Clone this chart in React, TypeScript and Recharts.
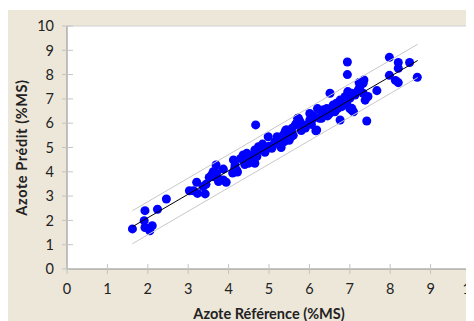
import React from "react";
import {
  CartesianGrid,
  Label,
  ReferenceLine,
  Scatter,
  ScatterChart,
  XAxis,
  YAxis,
  ZAxis,
} from "recharts";

// Reference (lab) nitrogen vs predicted nitrogen, %MS
const refX = [
  1.62, 1.93, 1.91, 1.93, 2.05, 2.11, 2.24, 2.46, 3.03, 3.13, 3.21, 3.23, 3.42, 3.44, 3.37,
  3.52, 3.58, 3.62, 3.62, 3.69, 3.7, 3.75, 3.77, 3.87, 3.87, 3.94, 4.1, 4.12, 4.16, 4.15,
  4.2, 4.22, 4.36, 4.45, 4.4, 4.49, 4.53, 4.61, 4.65, 4.65, 4.7, 4.74, 4.45, 4.55, 4.67,
  4.84, 4.98, 5.07, 5.0, 5.23, 5.31, 5.2, 5.25, 5.15, 5.35, 5.38, 5.42, 5.4, 5.44, 5.5,
  5.57, 5.6, 5.65, 5.68, 5.71, 5.73, 5.77, 5.8, 5.85, 5.93, 6.01, 6.01, 6.06, 6.1, 6.16,
  6.18, 6.2, 6.25, 6.3, 6.4, 6.43, 6.45, 6.51, 6.55, 6.59, 6.63, 6.67, 6.7, 6.76, 6.76,
  6.8, 6.84, 6.88, 6.92, 6.94, 6.94, 6.95, 7.0, 7.0, 7.05, 7.05, 7.05, 7.09, 7.13, 7.21,
  7.23, 7.25, 7.33, 7.35, 7.33, 7.38, 7.42, 7.42, 7.45, 7.67, 7.98, 7.98, 8.13, 8.2, 8.2,
  8.2, 8.48, 8.67, 5.1, 5.3, 5.45, 5.55, 5.9, 6.05, 6.3, 6.35, 6.5, 6.6, 4.3, 4.5,
  4.8, 4.9,
];
const predY = [
  1.65, 2.4, 1.99, 1.71, 1.57, 1.78, 2.46, 2.88, 3.22, 3.22, 3.57, 3.11, 3.09, 3.49, 3.39,
  3.77, 3.87, 3.8, 4.0, 4.28, 3.94, 3.6, 3.69, 4.11, 3.66, 3.57, 3.95, 4.49, 4.28, 4.14,
  4.07, 3.99, 4.69, 4.76, 4.3, 4.35, 4.56, 4.69, 4.9, 4.35, 4.63, 5.03, 4.5, 4.45, 5.93,
  5.14, 5.44, 4.97, 5.05, 5.38, 5.17, 5.44, 5.31, 5.24, 5.51, 5.24, 5.72, 5.65, 5.72, 5.3,
  5.79, 5.5, 5.93, 6.0, 6.2, 6.2, 6.06, 5.7, 5.9, 5.93, 6.13, 6.4, 6.13, 6.3, 5.69,
  5.72, 6.6, 6.2, 6.35, 6.45, 6.6, 6.3, 7.23, 6.54, 6.75, 6.47, 6.82, 6.6, 6.95, 6.13,
  6.68, 6.89, 7.09, 6.82, 8.52, 8.0, 7.3, 7.02, 6.6, 7.23, 6.61, 6.54, 6.47, 7.16, 7.37,
  7.67, 7.5, 7.64, 7.78, 7.23, 6.95, 7.09, 6.09, 7.1, 7.34, 8.71, 7.97, 7.76, 7.67, 8.26,
  8.5, 8.5, 7.89, 5.1, 5.0, 5.4, 5.45, 5.8, 5.95, 6.2, 6.55, 6.4, 6.6, 4.55, 4.6,
  4.9, 4.8,
];

// regression line and its +/- band, end points
const fitX = [1.62, 8.68];
const fitY = [1.74, 8.58];
const upperY = [2.4, 9.25];
const lowerY = [1.04, 7.88];

const axisTicks = [0, 1, 2, 3, 4, 5, 6, 7, 8, 9, 10];

const points = refX.map((x, i) => ({ x, y: predY[i] }));
const fitLine = fitX.map((x, i) => ({ x, y: fitY[i] }));
const upperLine = fitX.map((x, i) => ({ x, y: upperY[i] }));
const lowerLine = fitX.map((x, i) => ({ x, y: lowerY[i] }));

const FONT = "Lato, 'Open Sans', sans-serif";
const TICK_COLOR = "#c4c4c4";

const YTick = (props: any) => {
  const { x, y, payload } = props;
  return (
    <g>
      <line x1={x - 5} x2={x + 6} y1={y} y2={y} stroke={TICK_COLOR} />
      <text x={x - 13} y={y} dy="0.36em" textAnchor="end" fill="#222" fontSize={14.5} fontFamily={FONT}>
        {payload.value}
      </text>
    </g>
  );
};

const XTick = (props: any) => {
  const { x, y, payload } = props;
  return (
    <g>
      <line x1={x} x2={x} y1={y - 5} y2={y + 5} stroke={TICK_COLOR} />
      <text x={x} y={y + 20} dy="0.36em" textAnchor="middle" fill="#222" fontSize={14.5} fontFamily={FONT}>
        {payload.value}
      </text>
    </g>
  );
};

const noDot = () => <g />;

export default function App() {
  return (
    <div style={{ marginTop: 2, width: 466, height: 311, background: "#ede7d9" }}>
      <ScatterChart width={466} height={311} margin={{ top: 16, right: 3, left: 0, bottom: 0 }}>
        <CartesianGrid horizontal={false} vertical={false} fill="#ffffff" />
        <XAxis
          type="number"
          dataKey="x"
          domain={[0, 10]}
          ticks={axisTicks}
          interval={0}
          height={52}
          stroke="#8a8a8a"
          tickLine={false}
          tickSize={0}
          tickMargin={0}
          tick={<XTick />}
        >
          <Label
            value="Azote Référence (%MS)"
            position="insideBottom"
            offset={2}
            style={{ fontFamily: FONT, fontSize: 14.5, fontWeight: 700, fill: "#222" }}
          />
        </XAxis>
        <YAxis
          type="number"
          dataKey="y"
          domain={[0, 10]}
          ticks={axisTicks}
          interval={0}
          width={59}
          stroke="#8a8a8a"
          tickLine={false}
          tickSize={0}
          tickMargin={0}
          tick={<YTick />}
        >
          <Label
            value="Azote Prédit  (%MS)"
            angle={-90}
            position="insideLeft"
            offset={14}
            style={{
              fontFamily: FONT,
              fontSize: 14.5,
              fontWeight: 700,
              fill: "#222",
              textAnchor: "middle",
              whiteSpace: "pre",
              letterSpacing: 0.6,
            }}
          />
        </YAxis>
        <ZAxis range={[66, 66]} />
        <ReferenceLine y={10} stroke="#d0d0d0" />
        <ReferenceLine x={10} stroke="#d0d0d0" />
        <Scatter data={points} fill="#0000ff" isAnimationActive={false} />
        <Scatter data={upperLine} line={{ stroke: "#c8c8c8", strokeWidth: 1 }} shape={noDot} isAnimationActive={false} />
        <Scatter data={lowerLine} line={{ stroke: "#c8c8c8", strokeWidth: 1 }} shape={noDot} isAnimationActive={false} />
        <Scatter data={fitLine} line={{ stroke: "#000000", strokeWidth: 1 }} shape={noDot} isAnimationActive={false} />
      </ScatterChart>
    </div>
  );
}
